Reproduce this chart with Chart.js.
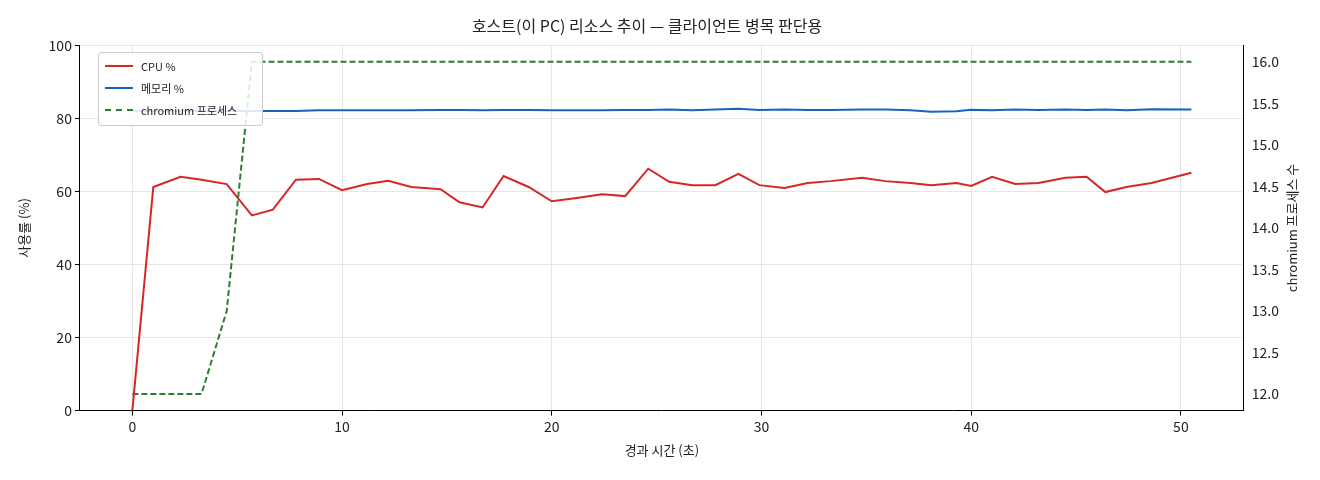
<!DOCTYPE html>
<html><head><meta charset="utf-8">
<script src="https://cdn.jsdelivr.net/npm/chart.js@4"></script>
<style>
body{margin:0;background:#fff;font-family:"Noto Sans CJK KR",sans-serif}
#wrap{position:relative;width:1320px;height:480px}
#leg{position:absolute;left:98px;top:52px;width:163px;height:72px;background:rgba(255,255,255,0.85);border:1px solid #ccc;border-radius:3px;font-size:11px;color:#222}
.it{position:absolute;left:6px;display:flex;align-items:center}
.ln{width:28px;height:0;border-top:2px solid;margin-right:8px}
</style></head><body>
<div id="wrap"><canvas id="c" width="1320" height="480"></canvas>
<div id="leg">
<div class="it" style="top:5px"><span class="ln" style="border-color:#d62728"></span>CPU %</div>
<div class="it" style="top:27px"><span class="ln" style="border-color:#1565c0"></span>메모리 %</div>
<div class="it" style="top:49px"><span class="ln" style="border-top:2px dashed #2e7d32"></span>chromium 프로세스</div>
</div></div>
<script>
const times=[0,1.0,2.3,3.3,4.5,5.7,6.7,7.8,8.9,10.0,11.2,12.2,13.3,14.7,15.6,16.7,17.7,18.9,20.0,21.1,22.4,23.5,24.6,25.6,26.7,27.8,28.9,29.9,31.1,32.2,33.3,34.8,35.9,37.1,38.1,39.3,40.0,41.0,42.1,43.2,44.5,45.5,46.4,47.4,48.6,50.5];
const cpu=[0,61.2,64.0,63.2,62.0,53.4,55.0,63.2,63.4,60.3,62.0,62.9,61.2,60.6,57.0,55.6,64.2,61.2,57.3,58.1,59.2,58.7,66.2,62.6,61.7,61.7,64.8,61.7,60.9,62.3,62.8,63.7,62.8,62.3,61.7,62.3,61.5,64.0,62.0,62.3,63.7,64.0,59.8,61.2,62.3,65.1];
const mem=[82.0,82.0,82.0,82.0,82.0,82.0,82.0,82.0,82.2,82.2,82.2,82.2,82.2,82.3,82.3,82.2,82.3,82.3,82.2,82.2,82.2,82.3,82.3,82.4,82.2,82.4,82.6,82.3,82.4,82.3,82.3,82.4,82.4,82.2,81.8,81.9,82.3,82.2,82.4,82.3,82.4,82.3,82.4,82.2,82.5,82.4];
const procs=[12,12,12,12,13,16,16,16,16,16,16,16,16,16,16,16,16,16,16,16,16,16,16,16,16,16,16,16,16,16,16,16,16,16,16,16,16,16,16,16,16,16,16,16,16,16];
const rightTitle='chromium 프로세스 수';
const pts=a=>a.map((v,i)=>({x:times[i],y:v}));
Chart.defaults.font.family='"Noto Sans CJK KR",sans-serif';
Chart.defaults.color='#222';
const g={color:'#e6e6e6',tickColor:'#000',tickLength:5};
const rt={id:'rt',afterDraw(ch){const c=ch.ctx,a=ch.chartArea;c.save();c.translate(1292,(a.top+a.bottom)/2);c.rotate(-Math.PI/2);c.font='13px "Noto Sans CJK KR"';c.fillStyle='#222';c.textAlign='center';c.textBaseline='middle';c.fillText(rightTitle,0,0);c.restore();}};
new Chart(document.getElementById('c'),{type:'line',plugins:[rt],
data:{datasets:[
{data:pts(cpu),borderColor:'#d62728',borderWidth:2,pointRadius:0,yAxisID:'y',tension:0},
{data:pts(mem),borderColor:'#1565c0',borderWidth:2,pointRadius:0,yAxisID:'y',tension:0},
{data:pts(procs),borderColor:'#2e7d32',borderWidth:2,borderDash:[6,3],pointRadius:0,yAxisID:'y1',tension:0}]},
options:{responsive:false,animation:false,layout:{padding:{left:12,right:38,top:4,bottom:18}},
plugins:{legend:{display:false},tooltip:{enabled:false},title:{display:true,text:'호스트(이 PC) 리소스 추이 — 클라이언트 병목 판단용',font:{size:16,weight:'normal'},padding:{top:12,bottom:10}}},
scales:{
x:{type:'linear',min:-2.5,max:53,border:{color:'#000'},grid:g,ticks:{font:{size:14}},afterBuildTicks:s=>{s.ticks=[0,10,20,30,40,50].map(v=>({value:v}))},title:{display:true,text:'경과 시간 (초)',font:{size:13}}},
y:{min:0,max:100,border:{color:'#000'},grid:g,ticks:{stepSize:20,font:{size:14}},title:{display:true,text:'사용률 (%)',font:{size:13},padding:{bottom:14}}},
y1:{position:'right',min:11.8,max:16.2,border:{color:'#000'},grid:{display:false,tickColor:'#000',tickLength:5},afterBuildTicks:s=>{s.ticks=[12,12.5,13,13.5,14,14.5,15,15.5,16].map(v=>({value:v}))},ticks:{font:{size:14},callback:v=>v.toFixed(1)}}
}}});
</script></body></html>
